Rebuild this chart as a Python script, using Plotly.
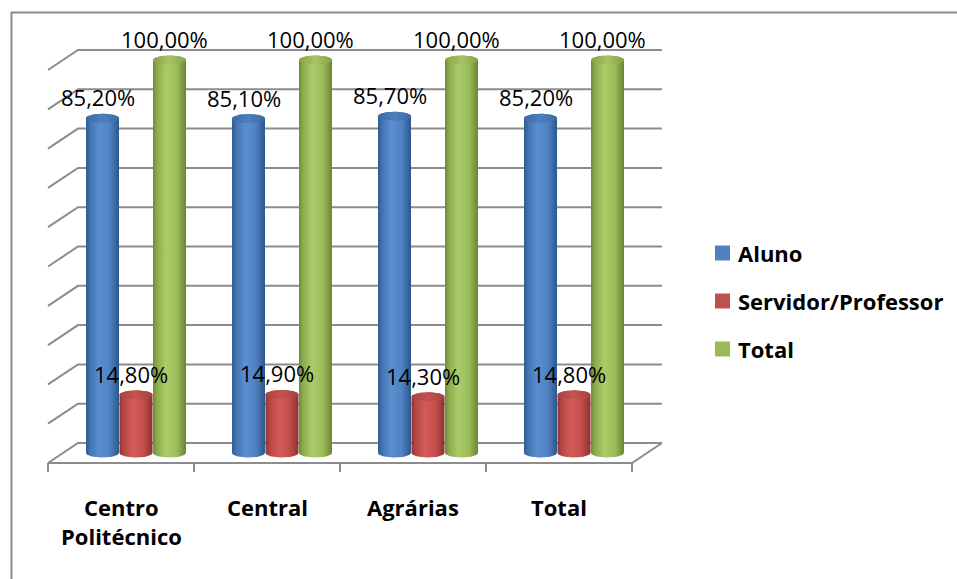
import numpy as np
import plotly.graph_objects as go

# ---- data -------------------------------------------------------------
categories = ["Centro<br>Politécnico", "Central", "Agrárias", "Total"]
series_names = ["Aluno", "Servidor/Professor", "Total"]
aluno = [0.852, 0.851, 0.857, 0.852]
servidor = [0.148, 0.149, 0.143, 0.148]
total = [1.0, 1.0, 1.0, 1.0]
grid_values = [0.0, 0.1, 0.2, 0.3, 0.4, 0.5, 0.6, 0.7, 0.8, 0.9, 1.0]

series_values = [aluno, servidor, total]

# ---- style / geometry -------------------------------------------------
W, H = 957, 579
X0_PX, Y0_PX = 136, 453          # pixel position of category 0 / value 0 (mid depth)
CAT_PX, UNIT_PX = 146, 393       # pixels per category / per 100 %
x_range = [(0 - X0_PX) / CAT_PX, (W - X0_PX) / CAT_PX]
y_range = [(Y0_PX - H) / UNIT_PX, Y0_PX / UNIT_PX]


def dx(p):
    return p / CAT_PX


def dy(p):
    return p / UNIT_PX


DEPTH_X, DEPTH_Y = dx(15), dy(10)   # half depth of the 3-D box
BAR_STEP = dx(33.5)
RAD_X, RAD_Y = dx(16.5), dy(4.5)
GRID = "#8c8c8c"
FONT = "Open Sans"

body_scales = [
    [[0, "#2f5a8f"], [0.12, "#4272b0"], [0.4, "#5b8fd2"], [0.72, "#4f82c2"], [1, "#2d578c"]],
    [[0, "#8e3532"], [0.12, "#b34643"], [0.4, "#d45b57"], [0.72, "#c64f4b"], [1, "#8a3330"]],
    [[0, "#6e8a38"], [0.12, "#8cab4e"], [0.4, "#abcc69"], [0.72, "#9dbd5b"], [1, "#6a8535"]],
]
cap_scales = [
    [[0, "#3d6aa3"], [0.5, "#4d7fbf"], [1, "#3d69a0"]],
    [[0, "#a9423f"], [0.5, "#c45450"], [1, "#a6413e"]],
    [[0, "#86a448"], [0.5, "#a6c465"], [1, "#84a146"]],
]
legend_colors = ["#4f81bd", "#c0504d", "#9bbb59"]

fig = go.Figure()

# ---- walls, floor and gridlines -------------------------------------
shapes = []
left, right = -0.5, len(categories) - 0.5
for g in grid_values:
    shapes.append(dict(
        type="path", xref="x", yref="y", layer="below",
        path=f"M{left - DEPTH_X},{g - DEPTH_Y} L{left + DEPTH_X},{g + DEPTH_Y} "
             f"L{right + DEPTH_X},{g + DEPTH_Y}",
        line=dict(color=GRID, width=2)))
# front edge of the floor and right side
shapes.append(dict(
    type="path", xref="x", yref="y", layer="below",
    path=f"M{left - DEPTH_X},{-DEPTH_Y} L{right - DEPTH_X},{-DEPTH_Y} "
         f"L{right + DEPTH_X},{DEPTH_Y}",
    line=dict(color=GRID, width=2)))
# category tick marks
for i in range(len(categories) + 1):
    xb = i - 0.5 - DEPTH_X
    shapes.append(dict(type="line", xref="x", yref="y", layer="below",
                       x0=xb, x1=xb, y0=-DEPTH_Y, y1=-DEPTH_Y - dy(9),
                       line=dict(color=GRID, width=2)))
# outer frame
shapes.append(dict(type="rect", xref="paper", yref="paper",
                   x0=11.5 / W, x1=1.2, y0=-0.2, y1=1 - 12.5 / H,
                   line=dict(color="#8c8c8c", width=2), fillcolor="rgba(0,0,0,0)"))

# ---- cylinders -------------------------------------------------------
t_low = np.linspace(np.pi, 2 * np.pi, 40)
t_up = np.linspace(0, np.pi, 40)
t_all = np.linspace(0, 2 * np.pi, 80)

annotations = []
for k, vals in enumerate(series_values):
    for i, v in enumerate(vals):
        cx = i + (k - 1) * BAR_STEP
        bx = np.concatenate([cx + RAD_X * np.cos(t_low), cx + RAD_X * np.cos(t_up)])
        by = np.concatenate([RAD_Y * np.sin(t_low), v + RAD_Y * np.sin(t_up)])
        fig.add_trace(go.Scatter(
            x=bx, y=by, mode="lines", fill="toself", line=dict(width=0),
            fillgradient=dict(type="horizontal", colorscale=body_scales[k]),
            hoverinfo="skip", showlegend=False))
        fig.add_trace(go.Scatter(
            x=cx + RAD_X * np.cos(t_all), y=v + RAD_Y * np.sin(t_all),
            mode="lines", fill="toself", line=dict(width=0),
            fillgradient=dict(type="horizontal", colorscale=cap_scales[k]),
            hoverinfo="skip", showlegend=False))
        label = f"{v * 100:.2f}%".replace(".", ",")
        annotations.append(dict(
            x=cx - dx(5), y=v + dy(21), xref="x", yref="y", text=label,
            showarrow=False, xanchor="center", yanchor="middle",
            font=dict(family=FONT, size=22, color="black", weight=500)))

# ---- category labels -------------------------------------------------
for i, c in enumerate(categories):
    annotations.append(dict(
        x=i - DEPTH_X, y=-DEPTH_Y - dy(27), xref="x", yref="y", text=f"<b>{c}</b>",
        showarrow=False, xanchor="center", yanchor="top",
        font=dict(family=FONT, size=22, color="black")))

# ---- legend ----------------------------------------------------------
for k, name in enumerate(series_names):
    yc = 253 + 48 * k
    shapes.append(dict(type="rect", xref="paper", yref="paper",
                       x0=715 / W, x1=730 / W, y0=1 - (yc + 7.5) / H, y1=1 - (yc - 7.5) / H,
                       line=dict(width=0), fillcolor=legend_colors[k]))
    annotations.append(dict(
        x=736 / W, y=1 - yc / H, xref="paper", yref="paper", text=f"<b>{name}</b>",
        showarrow=False, xanchor="left", yanchor="middle",
        font=dict(family=FONT, size=22, color="black")))

fig.update_layout(
    width=W, height=H, margin=dict(l=0, r=0, t=0, b=0),
    paper_bgcolor="white", plot_bgcolor="white",
    xaxis=dict(range=x_range, visible=False, fixedrange=True),
    yaxis=dict(range=y_range, visible=False, fixedrange=True),
    shapes=shapes, annotations=annotations, showlegend=False)

fig.write_html("out.html")
